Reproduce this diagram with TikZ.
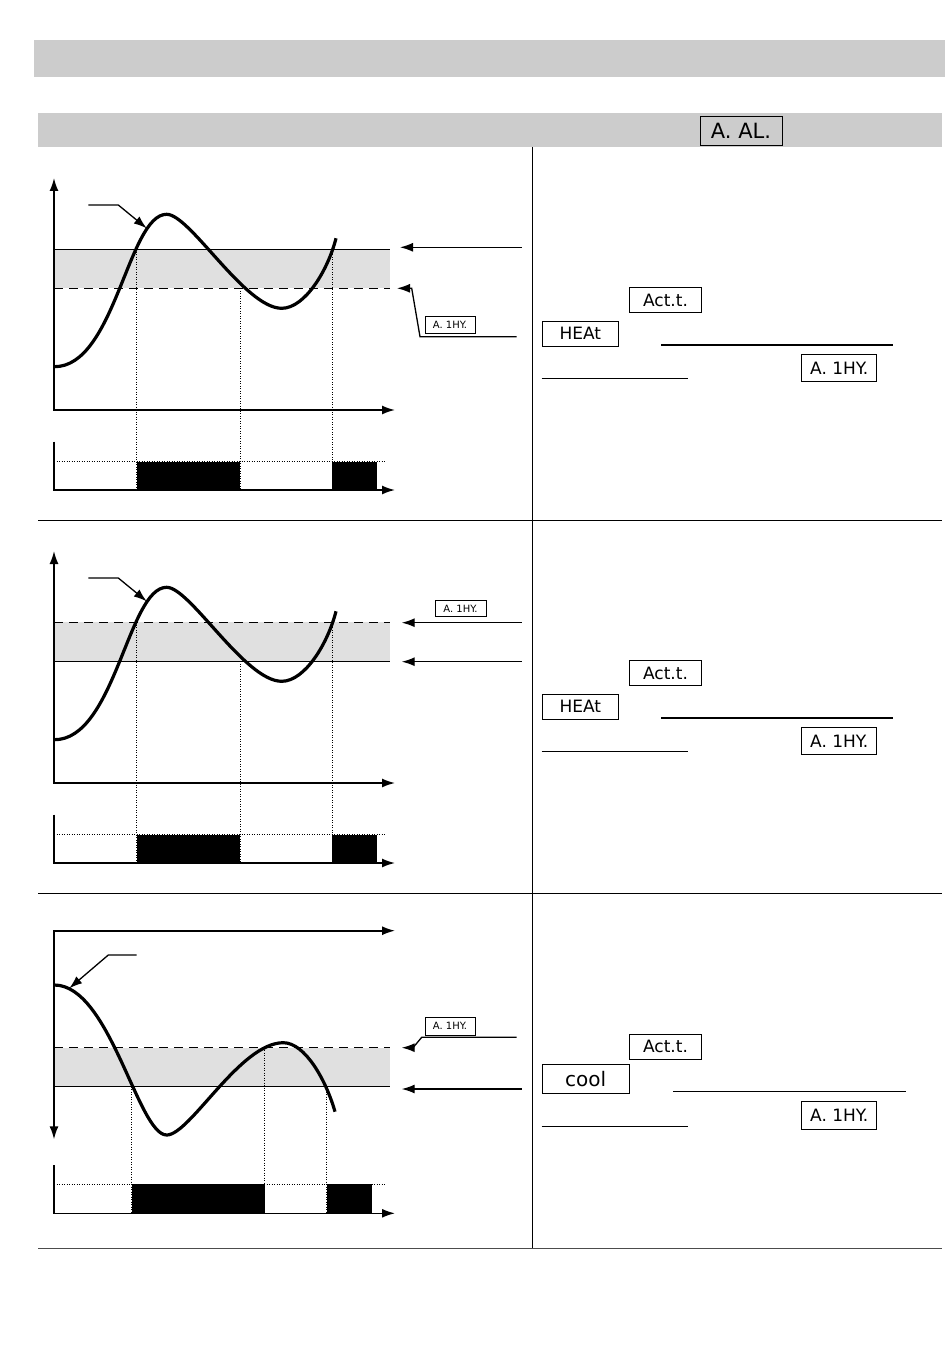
\documentclass[tikz,border=0pt]{standalone}
\usepackage{fontspec}
\newfontfamily\segfont{DejaVu Sans}
\usetikzlibrary{arrows.meta, positioning}

\definecolor{barGray}{HTML}{CCCCCC}
\definecolor{bandGray}{HTML}{E0E0E0}

\tikzset{
  segbox/.style={draw, line width=0.8pt, inner sep=0pt, font=\segfont\fontsize{17}{17}\selectfont},
  segsmall/.style={segbox, line width=0.6pt, font=\segfont\fontsize{10}{10}\selectfont},
  tip/.style={-{Latex[length=13pt,width=9pt]}},
  bothtips/.style={{Latex[length=13pt,width=9pt]}-{Latex[length=13pt,width=9pt]}},
  axis/.style={line width=1.6pt, tip},
  level/.style={line width=1.5pt},
  hyst/.style={line width=1.5pt, dash pattern=on 9pt off 6pt},
  guide/.style={line width=0.9pt, dash pattern=on 1pt off 1.5pt},
  pv/.style={line width=3.2pt, line join=round},
  pointer/.style={line width=1.3pt, tip},
  rule/.style={line width=1.5pt}
}

\begin{document}
\begin{tikzpicture}[x=1pt, y=-1pt]
  \useasboundingbox (0,0) rectangle (950,1372);

  % header bars
  \fill[barGray] (34,40) rectangle (945,77);
  \fill[barGray] (38,113) rectangle (942,147);
  \node[segbox, minimum width=82pt, minimum height=29pt, font=\segfont\fontsize{21}{21}\selectfont]
    (aal) at (741,130.5) {A. AL.};

  % frame
  \draw[line width=1pt] (532,147) -- (532,1248);
  \draw[line width=1pt] (38,520) -- (942,520);
  \draw[line width=1pt] (38,893) -- (942,893);
  \draw[line width=1pt, black!70] (38,1248) -- (942,1248);

  % panels 1 and 2 : rising process value
  \foreach \i/\dy in {1/0, 2/373} {
    \begin{scope}[shift={(0,\dy)}]
      \fill[bandGray] (54,249.3) rectangle (390,288.3);
      \draw[guide] (136.7,249.3) -- (136.7,490);
      \draw[guide] (240,288.3) -- (240,490);
      \draw[guide] (332.3,249.3) -- (332.3,490);
      \draw[pv] (54.3,366.7) .. controls (115,367) and (128,214.3) .. (166.7,214.3)
        .. controls (190,214.3) and (245,308.3) .. (281.7,308.3)
        .. controls (305,308.3) and (328,270) .. (336,238.3);
      \draw[axis, bothtips] (54,178) |- (395,410);
      % output
      \draw[axis] (54,441.7) |- (395,490);
      \draw[guide] (54,461.7) -- (385,461.7);
      \fill (136.7,461.7) rectangle (240,490);
      \fill (332,461.7) rectangle (376.7,490);
      % label pointer on the curve
      \coordinate (pv\i) at (146.7,228.3);
      \coordinate (pvlab\i) at (88.3,205);
      \draw[pointer] (pvlab\i) -- ++(30,0) -- (pv\i);
    \end{scope}
  }

  % panel 1 levels
  \draw[level] (54,249.3) -- (390,249.3);
  \draw[hyst] (54,288.3) -- (390,288.3);
  \coordinate (sp1) at (400,247.3);
  \coordinate (sp1lab) at (521.7,247.3);
  \draw[pointer] (sp1lab) -- (sp1);
  \node[segsmall, minimum width=50pt, minimum height=17pt] (hy1) at (450,325) {A. 1HY.};
  \coordinate (hy1tip) at (397,288.3);
  \coordinate (hy1lab) at (516.7,336.7);
  \draw[pointer] (hy1lab) -- (420,336.7) -- (411.7,288.3) -- (hy1tip);

  % panel 2 levels
  \draw[hyst] (54,622.3) -- (390,622.3);
  \draw[level] (54,661.3) -- (390,661.3);
  \node[segsmall, minimum width=51pt, minimum height=16pt] (hy2) at (460.5,608.7) {A. 1HY.};
  \coordinate (hy2tip) at (401.7,622.7);
  \coordinate (hy2lab) at (521.7,622.7);
  \draw[pointer] (hy2lab) -- (hy2tip);
  \coordinate (sp2) at (401.7,661.7);
  \coordinate (sp2lab) at (521.7,661.7);
  \draw[pointer] (sp2lab) -- (sp2);

  % panel 3 : falling process value
  \fill[bandGray] (54,1047.7) rectangle (390,1086.7);
  \draw[hyst] (54,1047.7) -- (390,1047.7);
  \draw[level] (54,1086.7) -- (390,1086.7);
  \draw[guide] (131.7,1086.7) -- (131.7,1213.3);
  \draw[guide] (264,1047.7) -- (264,1213.3);
  \draw[guide] (326.7,1086.7) -- (326.7,1213.3);
  \draw[pv] (54.3,985) .. controls (110,985) and (138,1135) .. (166.7,1135)
    .. controls (190,1135) and (240,1042.7) .. (283.3,1042.7)
    .. controls (305,1042.7) and (326,1080) .. (335,1111.7);
  \draw[axis, bothtips] (395,930.7) -| (54,1139.3);
  \draw[axis] (54,1165) |- (395,1213.3);
  \draw[guide] (54,1184.3) -- (385,1184.3);
  \fill (131.7,1184.3) rectangle (265,1213.3);
  \fill (326.7,1184.3) rectangle (371.7,1213.3);
  \coordinate (pv3) at (69.3,988.3);
  \coordinate (pvlab3) at (136.7,955);
  \draw[pointer] (pvlab3) -- (108.3,955) -- (pv3);
  \node[segsmall, minimum width=50pt, minimum height=18pt] (hy3) at (450,1026) {A. 1HY.};
  \coordinate (hy3tip) at (401.7,1047.7);
  \coordinate (hy3lab) at (516.7,1037.3);
  \draw[pointer] (hy3lab) -- (421.7,1037.3) -- (413,1047.7) -- (hy3tip);
  \coordinate (sp3) at (401.7,1089);
  \coordinate (sp3lab) at (521.7,1089);
  \draw[pointer] (sp3lab) -- (sp3);

  % text column
  \foreach \i/\dy in {1/0, 2/373} {
    \begin{scope}[shift={(0,\dy)}]
      \node[segbox, minimum width=72pt, minimum height=25pt] (act\i) at (665.5,300) {Act.t.};
      \node[segbox, minimum width=76pt, minimum height=25pt] (mode\i) at (580.3,333.5) {HEAt};
      \node[segbox, minimum width=75pt, minimum height=27pt] (hyt\i) at (839.2,368.3) {A. 1HY.};
      \draw[rule] (661,345) -- (893,345);
      \draw[rule] (541.7,378.3) -- (688.3,378.3);
    \end{scope}
  }
  \node[segbox, minimum width=72pt, minimum height=25pt] (act3) at (665.5,1046.8) {Act.t.};
  \node[segbox, minimum width=87pt, minimum height=29pt, font=\segfont\fontsize{20}{20}\selectfont] (mode3) at (585.7,1078.7) {cool};
  \node[segbox, minimum width=75pt, minimum height=28pt] (hyt3) at (839.2,1115) {A. 1HY.};
  \draw[rule] (673.3,1091.7) -- (905.7,1091.7);
  \draw[rule] (541.7,1126.7) -- (688.3,1126.7);
\end{tikzpicture}
\end{document}
